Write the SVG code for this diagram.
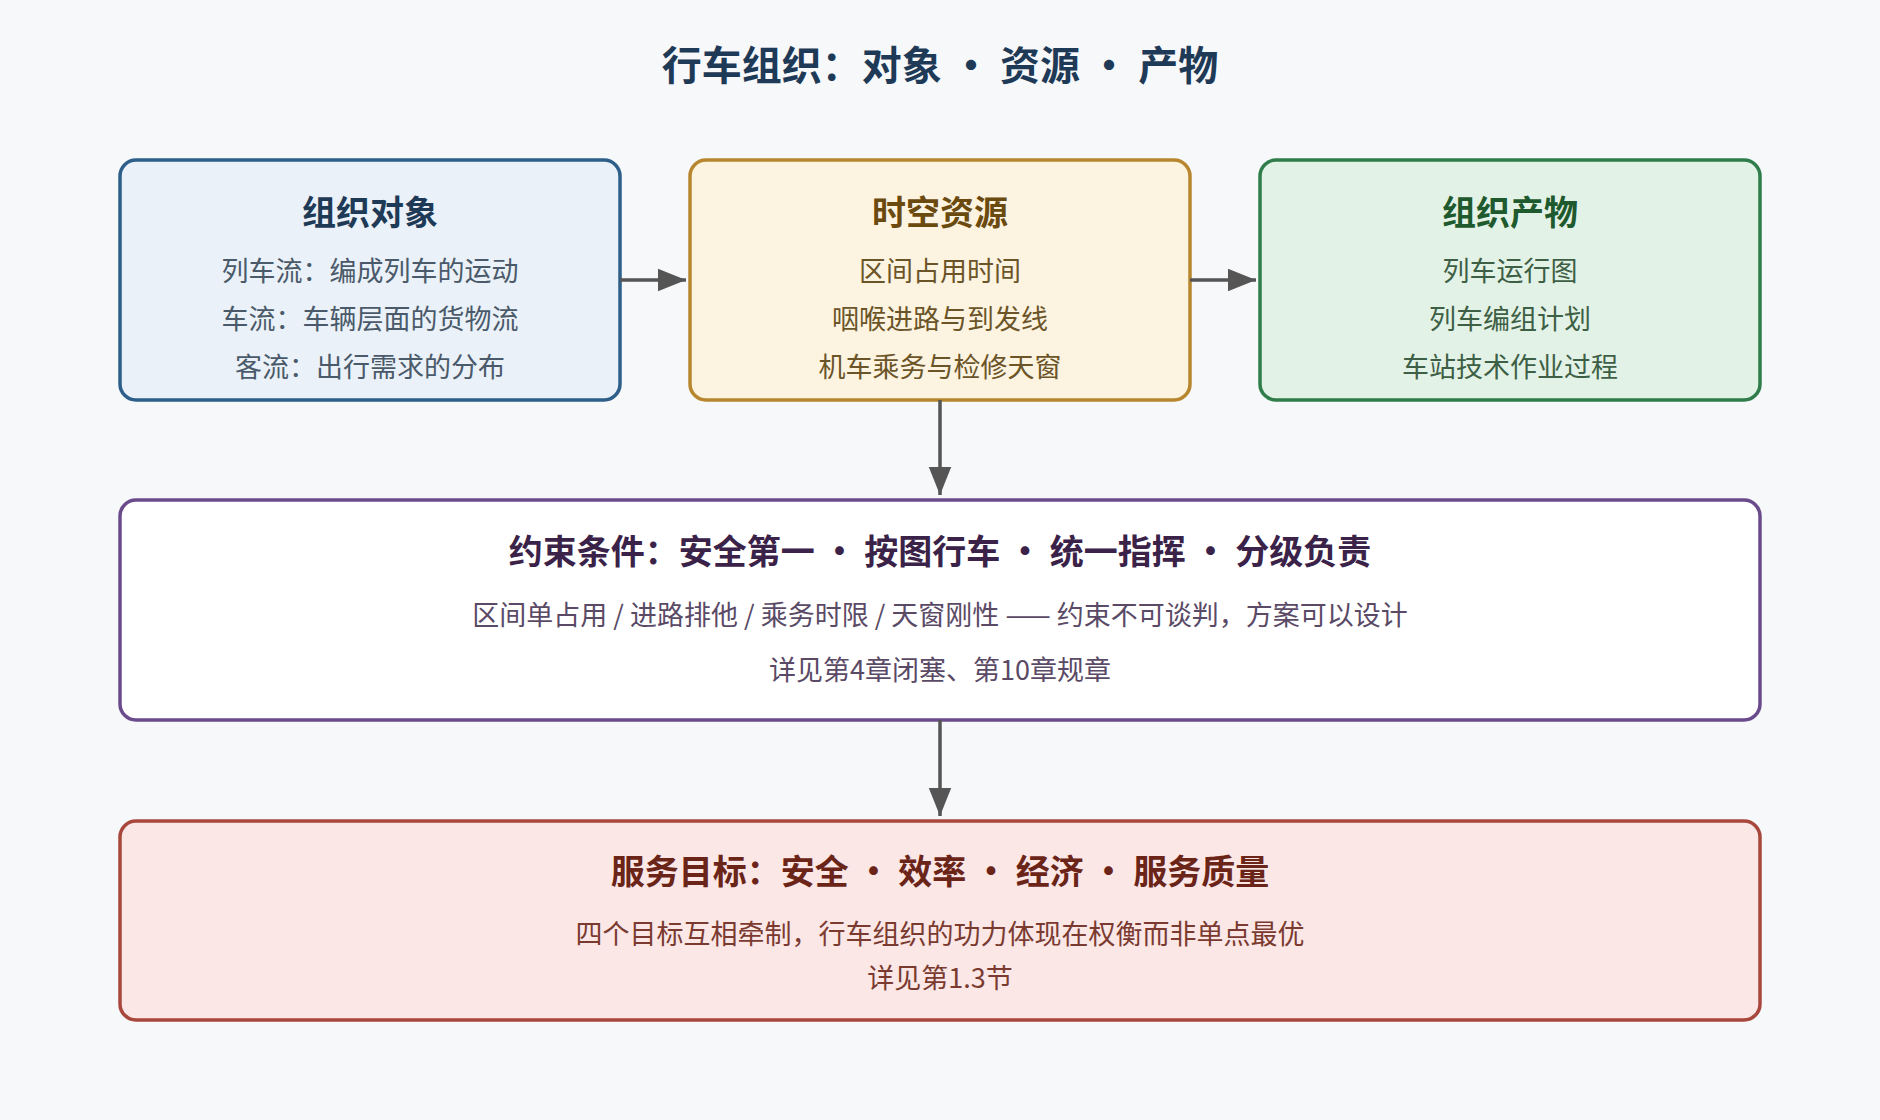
<svg xmlns="http://www.w3.org/2000/svg" width="1880" height="1120" viewBox="0 0 1880 1120">
<defs>
<style>
text{font-family:"Noto Sans CJK SC","Noto Sans",sans-serif;text-anchor:middle}
.h{font-size:34px;font-weight:bold}
.b{font-size:27px}
.box{stroke-width:3.5}
.c{stroke:#555;stroke-width:3.5;fill:none}
</style>
<marker id="a" viewBox="0 0 10 10" refX="9" refY="5" markerWidth="7" markerHeight="7" markerUnits="userSpaceOnUse" orient="auto"><path d="M0,0L10,5L0,10z" fill="#555"/></marker>
<marker id="m" viewBox="0 0 10 10" refX="10" refY="5" markerWidth="28" markerHeight="28" markerUnits="userSpaceOnUse" orient="auto"><path d="M0,1L10,5L0,9z" fill="#555"/></marker>
</defs>
<rect width="1880" height="1120" fill="#f6f8fa"/>
<text x="940" y="80" style="font-size:40px;font-weight:bold" fill="#1f3a56">行车组织：对象 • 资源 • 产物</text>
<g id="objects">
<rect class="box" x="120" y="160" width="500" height="240" rx="16" fill="#eaf1f8" stroke="#2e5f8a"/>
<text class="h" x="370" y="225" fill="#1f3a56">组织对象</text>
<text class="b" x="370" y="281" fill="#4a5a6a">列车流：编成列车的运动</text>
<text class="b" x="370" y="329" fill="#4a5a6a">车流：车辆层面的货物流</text>
<text class="b" x="370" y="377" fill="#4a5a6a">客流：出行需求的分布</text>
</g>
<g id="resources">
<rect class="box" x="690" y="160" width="500" height="240" rx="16" fill="#fdf3e1" stroke="#b7862e"/>
<text class="h" x="940" y="225" fill="#6b4a10">时空资源</text>
<text class="b" x="940" y="281" fill="#6b5528">区间占用时间</text>
<text class="b" x="940" y="329" fill="#6b5528">咽喉进路与到发线</text>
<text class="b" x="940" y="377" fill="#6b5528">机车乘务与检修天窗</text>
</g>
<g id="products">
<rect class="box" x="1260" y="160" width="500" height="240" rx="16" fill="#e3f2e6" stroke="#2e7d4a"/>
<text class="h" x="1510" y="225" fill="#1e5a2e">组织产物</text>
<text class="b" x="1510" y="281" fill="#3d5f45">列车运行图</text>
<text class="b" x="1510" y="329" fill="#3d5f45">列车编组计划</text>
<text class="b" x="1510" y="377" fill="#3d5f45">车站技术作业过程</text>
</g>
<g id="constraints">
<rect class="box" x="120" y="500" width="1640" height="220" rx="16" fill="#ffffff" stroke="#6a4c8c"/>
<text class="h" x="940" y="564" fill="#3a2248">约束条件：安全第一 • 按图行车 • 统一指挥 • 分级负责</text>
<text class="b" x="940" y="625" fill="#5a4a66">区间单占用 / 进路排他 / 乘务时限 / 天窗刚性 —— 约束不可谈判，方案可以设计</text>
<text class="b" x="940" y="680" fill="#5a4a66">详见第4章闭塞、第10章规章</text>
</g>
<g id="goals">
<rect class="box" x="120" y="821" width="1640" height="199" rx="16" fill="#fae7e6" stroke="#a8473c"/>
<text class="h" x="940" y="884" fill="#6a2418">服务目标：安全 • 效率 • 经济 • 服务质量</text>
<text class="b" x="940" y="944" fill="#7a3a30">四个目标互相牵制，行车组织的功力体现在权衡而非单点最优</text>
<text class="b" x="940" y="988" fill="#7a3a30">详见第1.3节</text>
</g>
<g id="connectors">
<path class="c" d="M620,280H686" marker-end="url(#m)"/>
<path class="c" d="M1190,280H1256" marker-end="url(#m)"/>
<path class="c" d="M940,400V495" marker-end="url(#m)"/>
<path class="c" d="M940,720V816" marker-end="url(#m)"/>
</g>
</svg>
